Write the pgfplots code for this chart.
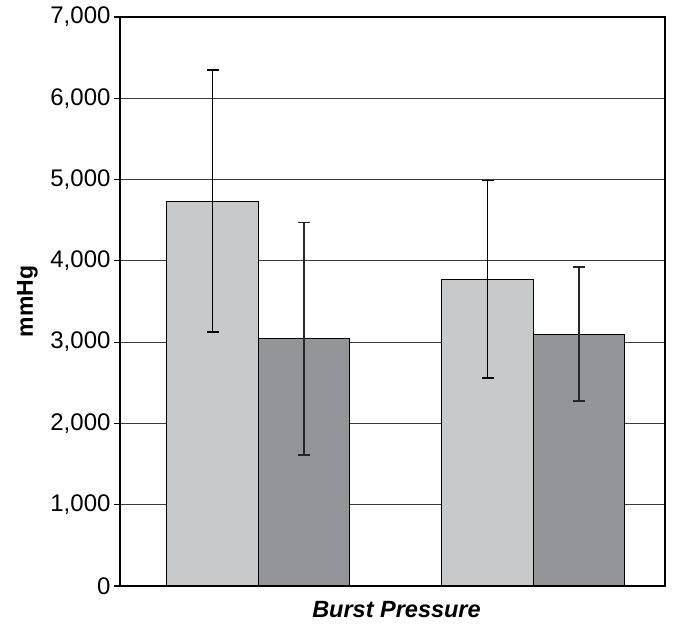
\documentclass[border=0pt]{standalone}
\usepackage{pgfplots}
\pgfplotsset{compat=1.18}
\usepackage{fontspec}
\setmainfont{Liberation Sans}
\definecolor{barlight}{HTML}{C8C9CB}
\definecolor{bardark}{HTML}{939598}
\definecolor{gridc}{HTML}{3C3C3C}
\begin{document}
\begin{tikzpicture}
\begin{axis}[
  scale only axis,
  width=545pt, height=569pt,
  xmin=-0.503, xmax=1.479,
  ymin=0, ymax=7000,
  ytick={0,1000,...,7000},
  xtick=\empty,
  ytick pos=left,
  ybar=0pt,
  bar width=0.333,
  ymajorgrids,
  grid style={gridc, line width=1.1pt},
  axis line style={black, line width=1.2pt},
  ytick style={black, line width=1.1pt},
  tick align=outside,
  major tick length=6pt,
  y tick label style={font=\fontsize{24}{28}\selectfont, /pgf/number format/.cd, 1000 sep={,}, assume math mode=true},
  ylabel={\textbf{mmHg}},
  ylabel style={font=\fontsize{23}{26}\selectfont, at={(axis description cs:-0.1697,0.5)}, anchor=center, rotate=0},
  xlabel={\textbf{\textit{Burst Pressure}}},
  xlabel style={font=\fontsize{23.5}{26}\selectfont, at={(axis description cs:0.5,0)}, anchor=center, yshift=-24pt, xshift=4pt},
  error bars/y dir=both,
  error bars/y explicit,
  error bars/error mark options={rotate=90, mark size=6pt, line width=1.3pt},
]
\addplot[fill=barlight, draw=black, line width=1pt,
  error bars/error bar style={black, line width=1.3pt}]
  coordinates {(0,4735) +- (0,1612) (1,3775) +- (0,1215)};
\addplot[fill=bardark, draw=black, line width=1pt,
  error bars/error bar style={black!85, line width=1.3pt},
  error bars/error mark options={rotate=90, mark size=6pt, line width=1.3pt, black!85}]
  coordinates {(0,3040) +- (0,1430) (1,3100) +- (0,825)};
\end{axis}
\path (current axis.south west) ++(-120pt,-38pt);
\path (current axis.north east) ++(12pt,17pt);
\end{tikzpicture}
\end{document}
